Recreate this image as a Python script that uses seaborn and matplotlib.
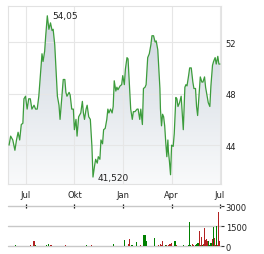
import pandas as pd
import numpy as np
import matplotlib
matplotlib.use('Agg')
import matplotlib.pyplot as plt
import matplotlib.dates as mdates
from matplotlib.colors import LinearSegmentedColormap
import seaborn as sns

# Share price (closing values)
price_dates = ['2023-05-31', '2023-06-03', '2023-06-07', '2023-06-11', '2023-06-14', '2023-06-17', '2023-06-20', '2023-06-23', '2023-06-26', '2023-06-28',
               '2023-07-01', '2023-07-04', '2023-07-07', '2023-07-10', '2023-07-13', '2023-07-17', '2023-07-20', '2023-07-23', '2023-07-26', '2023-07-29',
               '2023-08-01', '2023-08-03', '2023-08-06', '2023-08-08', '2023-08-11', '2023-08-14', '2023-08-17', '2023-08-20', '2023-08-22', '2023-08-25',
               '2023-08-27', '2023-08-30', '2023-09-02', '2023-09-04', '2023-09-07', '2023-09-10', '2023-09-13', '2023-09-15', '2023-09-17', '2023-09-21',
               '2023-09-23', '2023-09-26', '2023-09-29', '2023-10-01', '2023-10-04', '2023-10-06', '2023-10-09', '2023-10-13', '2023-10-16', '2023-10-18',
               '2023-10-20', '2023-10-23', '2023-10-25', '2023-10-28', '2023-10-31', '2023-11-03', '2023-11-05', '2023-11-08', '2023-11-10', '2023-11-13',
               '2023-11-15', '2023-11-18', '2023-11-20', '2023-11-23', '2023-11-25', '2023-11-28', '2023-12-01', '2023-12-03', '2023-12-05', '2023-12-08',
               '2023-12-11', '2023-12-13', '2023-12-15', '2023-12-18', '2023-12-20', '2023-12-22', '2023-12-26', '2023-12-29', '2023-12-31', '2024-01-03',
               '2024-01-05', '2024-01-08', '2024-01-10', '2024-01-13', '2024-01-15', '2024-01-18', '2024-01-20', '2024-01-23', '2024-01-27', '2024-01-29',
               '2024-02-01', '2024-02-03', '2024-02-06', '2024-02-08', '2024-02-11', '2024-02-13', '2024-02-16', '2024-02-19', '2024-02-22', '2024-02-24',
               '2024-02-27', '2024-03-01', '2024-03-03', '2024-03-06', '2024-03-08', '2024-03-10', '2024-03-11', '2024-03-13', '2024-03-15', '2024-03-17',
               '2024-03-19', '2024-03-21', '2024-03-23', '2024-03-25', '2024-03-26', '2024-03-28', '2024-03-30', '2024-04-01', '2024-04-04', '2024-04-06',
               '2024-04-09', '2024-04-11', '2024-04-13', '2024-04-16', '2024-04-19', '2024-04-21', '2024-04-23', '2024-04-26', '2024-04-28', '2024-04-30',
               '2024-05-03', '2024-05-05', '2024-05-08', '2024-05-11', '2024-05-13', '2024-05-16', '2024-05-18', '2024-05-20', '2024-05-23', '2024-05-25',
               '2024-05-28', '2024-05-30', '2024-06-02', '2024-06-04', '2024-06-07', '2024-06-09', '2024-06-12', '2024-06-14', '2024-06-17', '2024-06-19',
               '2024-06-22', '2024-06-24', '2024-06-27', '2024-06-29', '2024-07-01']

prices = [44.0, 44.7, 44.4, 43.6, 44.4, 45.0, 44.4, 45.6, 45.7, 47.6,
          47.8, 46.8, 47.6, 47.6, 46.8, 47.1, 46.8, 46.8, 47.8, 49.4,
          51.1, 50.5, 51.3, 52.5, 54.05, 53.0, 53.5, 52.9, 53.0, 51.8,
          50.2, 47.8, 47.1, 46.0, 47.6, 49.1, 49.1, 48.1, 47.8, 48.1,
          47.9, 46.8, 46.8, 45.2, 46.0, 44.7, 46.2, 46.5, 47.4, 46.5,
          46.0, 46.8, 47.1, 46.2, 46.0, 43.9, 41.52, 42.4, 42.9, 42.6,
          43.1, 42.9, 44.4, 44.1, 45.2, 45.3, 46.0, 46.8, 46.5, 46.8,
          46.5, 47.0, 49.0, 48.2, 48.5, 48.3, 48.6, 48.7, 49.4, 48.7,
          49.9, 50.8, 50.7, 48.4, 46.8, 46.0, 46.6, 46.6, 46.8, 46.8,
          46.0, 46.8, 45.6, 48.4, 48.5, 48.7, 50.8, 51.1, 51.8, 52.5,
          52.5, 52.0, 52.1, 51.4, 49.9, 48.4, 46.8, 45.5, 46.4, 46.2,
          45.5, 44.2, 43.1, 44.4, 43.5, 42.7, 41.7, 44.0, 43.9, 44.9,
          47.7, 47.6, 47.0, 47.3, 47.8, 46.5, 45.2, 48.5, 48.7, 48.6,
          49.4, 50.0, 50.0, 48.9, 48.4, 48.4, 47.0, 46.3, 48.1, 49.3,
          48.9, 48.9, 49.3, 48.5, 47.8, 47.3, 47.0, 48.6, 50.2, 50.5,
          50.8, 50.3, 50.9, 50.3, 50.3]

# Trading volume (g = up day, r = down day)
vol_dates = ['2023-06-13', '2023-07-11', '2023-07-17', '2023-07-19', '2023-08-09', '2023-08-14', '2023-08-18', '2023-09-14', '2023-09-15', '2023-10-23',
             '2023-11-02', '2023-12-13', '2024-01-03', '2024-01-10', '2024-01-12', '2024-01-17', '2024-01-18', '2024-01-26', '2024-02-02', '2024-02-09',
             '2024-02-12', '2024-02-13', '2024-02-28', '2024-03-07', '2024-03-11', '2024-03-12', '2024-03-14', '2024-03-15', '2024-03-20', '2024-03-22',
             '2024-03-27', '2024-03-29', '2024-04-01', '2024-04-06', '2024-04-08', '2024-04-10', '2024-04-23', '2024-05-02', '2024-05-04', '2024-05-06',
             '2024-05-10', '2024-05-12', '2024-05-16', '2024-05-17', '2024-05-19', '2024-05-21', '2024-05-23', '2024-05-25', '2024-05-27', '2024-05-29',
             '2024-05-31', '2024-06-02', '2024-06-03', '2024-06-05', '2024-06-07', '2024-06-09', '2024-06-11', '2024-06-13', '2024-06-15', '2024-06-17',
             '2024-06-18', '2024-06-20', '2024-06-22', '2024-06-24', '2024-06-26', '2024-06-28', '2024-06-30']

volumes = [100, 100, 400, 100, 100, 175, 100, 100, 100, 100,
           100, 175, 475, 175, 550, 100, 100, 325, 100, 850,
           850, 425, 625, 100, 175, 100, 400, 100, 100, 100,
           100, 175, 250, 400, 400, 100, 100, 100, 1825, 100,
           175, 100, 100, 175, 250, 250, 1150, 100, 725, 100,
           175, 1375, 475, 550, 400, 400, 100, 250, 250, 550,
           1450, 625, 100, 1525, 100, 2575, 400]

vol_dir = ['g', 'r', 'r', 'g', 'g', 'g', 'r', 'g', 'r', 'g',
           'r', 'g', 'g', 'r', 'r', 'g', 'g', 'g', 'r', 'g',
           'g', 'g', 'g', 'r', 'r', 'r', 'r', 'r', 'g', 'r',
           'r', 'r', 'r', 'g', 'g', 'r', 'g', 'g', 'g', 'g',
           'r', 'r', 'g', 'g', 'g', 'g', 'r', 'r', 'r', 'g',
           'r', 'r', 'r', 'r', 'r', 'g', 'g', 'g', 'g', 'r',
           'g', 'r', 'r', 'g', 'r', 'r', 'r']

month_ticks = ['2023-07-01', '2023-10-01', '2024-01-01', '2024-04-01', '2024-07-01']
month_labels = ['Jul', 'Okt', 'Jan', 'Apr', 'Jul']
price_ticks = [44, 48, 52]
vol_ticks = [0, 1500, 3000]
annot_labels = ['54,05', '41,520']

price_df = pd.DataFrame({'date': pd.to_datetime(price_dates), 'price': prices})
vol_df = pd.DataFrame({'date': pd.to_datetime(vol_dates), 'volume': volumes, 'dir': vol_dir})

sns.set_theme(style = 'white')
plt.rcParams['font.family'] = ['DejaVu Sans']

x0, x1 = pd.Timestamp('2023-05-29'), pd.Timestamp('2024-07-03')
ymin, ymax = 40.98, 54.81
text_col = '#222222'

fig = plt.figure(figsize = (2.64, 2.55), dpi = 100)
ax = fig.add_axes([8 / 264, 1 - 185 / 255, 213 / 264, 178 / 255])
ax_v = fig.add_axes([8 / 264, 1 - 247.3 / 255, 213 / 264, 40 / 255])

# Price panel
sns.lineplot(ax = ax, data = price_df, x = 'date', y = 'price',
             color = '#3c9c3c', lw = 0.9, zorder = 3)

poly = ax.fill_between(price_df['date'], price_df['price'], ymin, color = 'none', lw = 0)
cmap = LinearSegmentedColormap.from_list('fade', ['#f9fafb', '#ccd4dd'])
grad = np.linspace(0, 1, 256).reshape(-1, 1)
im = ax.imshow(grad, extent = [mdates.date2num(x0), mdates.date2num(x1), ymin, ymax],
               origin = 'lower', cmap = cmap, aspect = 'auto', zorder = 0)
im.set_clip_path(poly.get_paths()[0], ax.transData)

ax.set_xlim(x0, x1)
ax.set_ylim(ymin, ymax)
ax.set_xticks(pd.to_datetime(month_ticks))
ax.set_xticklabels(month_labels)
ax.set_yticks(price_ticks)
ax.yaxis.tick_right()
ax.set(xlabel = '', ylabel = '')
ax.tick_params(axis = 'x', length = 0, pad = 4.5, labelsize = 6, labelcolor = text_col)
ax.tick_params(axis = 'y', length = 0, pad = 3.2, labelsize = 6, labelcolor = text_col)
ax.grid(True, color = '#e6e6e6', lw = 0.8)
ax.set_axisbelow(True)
for s in ax.spines.values():
    s.set_color('#e2e2e2')
    s.set_linewidth(0.8)

# Max / min labels
i_max = int(np.argmax(prices))
i_min = int(np.argmin(prices))
for i, lab in zip([i_max, i_min], annot_labels):
    ax.annotate(lab, xy = (price_df['date'][i], prices[i]), xytext = (3.4, 0),
                textcoords = 'offset points', ha = 'left', va = 'center',
                fontsize = 6.5, color = text_col)

# Volume panel
colors = ['#008000' if d == 'g' else '#b22222' for d in vol_df['dir']]
ax_v.bar(vol_df['date'], vol_df['volume'], width = 2.0, color = colors, lw = 0)
ax_v.set_xlim(x0, x1)
ax_v.set_ylim(0, 3000)
ax_v.set_yticks(vol_ticks)
ax_v.yaxis.tick_right()
ax_v.set_xticks(pd.to_datetime(month_ticks))
ax_v.xaxis.set_ticks_position('top')
ax_v.tick_params(axis = 'x', direction = 'inout', length = 3.5, width = 0.9,
                 color = 'black', labeltop = False, labelbottom = False)
ax_v.tick_params(axis = 'y', length = 2.4, width = 0.8, color = '#333333', pad = 1,
                 labelsize = 6, labelcolor = text_col)
ax_v.grid(True, axis = 'y', color = '#c8c8c8', lw = 1)
ax_v.grid(False, axis = 'x')
for l in ax_v.get_ygridlines():
    l.set_clip_on(False)
ax_v.set_axisbelow(True)
for s in ax_v.spines.values():
    s.set_visible(False)

fig.savefig('out.png', dpi = 100)
plt.close()
